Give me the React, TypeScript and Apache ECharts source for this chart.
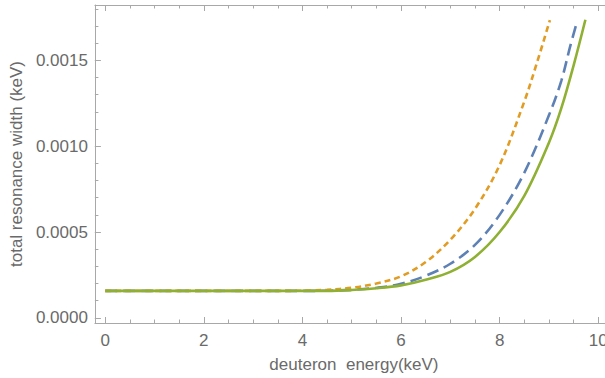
import React, { useEffect, useRef } from "react";
import * as echarts from "echarts";

// x positions (keV) and total resonance width (keV)
const xBlue = [0, 1, 2, 3, 4, 4.5, 5, 5.5, 6, 6.5, 7, 7.5, 8, 8.5, 9, 9.25, 9.43, 9.57];
const blueWidth = [
  0.000157, 0.000157, 0.000157, 0.000157, 0.000157, 0.000158, 0.000163, 0.000175,
  0.000198, 0.000245, 0.000315, 0.000425, 0.0006, 0.000845, 0.00118, 0.00138, 0.00158,
  0.001725,
];

const xOrange = [0, 1, 2, 3, 3.5, 4, 4.5, 5, 5.5, 6, 6.5, 7, 7.5, 8, 8.5, 8.75, 9.02];
const orangeWidth = [
  0.000157, 0.000157, 0.000157, 0.000157, 0.000157, 0.000158, 0.000163, 0.000175,
  0.0002, 0.000242, 0.000325, 0.000455, 0.000635, 0.00089, 0.00126, 0.00148, 0.001735,
];

const xGreen = [0, 1, 2, 3, 4, 4.5, 5, 5.5, 6, 6.5, 7, 7.5, 8, 8.5, 9, 9.25, 9.5, 9.74];
const greenWidth = [
  0.000157, 0.000157, 0.000157, 0.000157, 0.000157, 0.000157, 0.000162, 0.000172,
  0.000189, 0.000222, 0.000268, 0.000355, 0.0005, 0.00071, 0.00102, 0.00122, 0.00147,
  0.001737,
];

const xMajorTicks = [0, 2, 4, 6, 8, 10];
const xMinorTicks = [0, 0.5, 1, 1.5, 2, 2.5, 3, 3.5, 4, 4.5, 5, 5.5, 6, 6.5, 7, 7.5, 8, 8.5, 9, 9.5, 10];
const yMajorTicks = [0, 0.0005, 0.001, 0.0015];
const yMinorTicks = [
  0, 0.0001, 0.0002, 0.0003, 0.0004, 0.0005, 0.0006, 0.0007, 0.0008, 0.0009, 0.001, 0.0011,
  0.0012, 0.0013, 0.0014, 0.0015, 0.0016, 0.0017, 0.0018,
];

const xTitle = "deuteron  energy(keV)";
const yTitle = "total resonance width (keV)";

const pairs = (xs: number[], ys: number[]) => xs.map((x, i) => [x, ys[i]]);

const FRAME = "#a8a8a8";
const LABEL = "#6a6a6a";
const FONT = "'Liberation Sans', Arial, sans-serif";
const X_MIN = -0.21;
const X_MAX = 10.3;
const Y_MIN = -0.0000302;
const Y_MAX = 0.001823;

export default function App() {
  const ref = useRef<HTMLDivElement>(null);
  useEffect(() => {
    if (!ref.current) return;
    const chart = echarts.init(ref.current, undefined, { renderer: "svg" });

    const xBase = (position: "top" | "bottom", ticks: number[], len: number, labels: boolean, line: boolean) => ({
      type: "value",
      position,
      min: X_MIN,
      max: X_MAX,
      gridIndex: 0,
      axisLine: { show: line, onZero: false, lineStyle: { color: FRAME, width: 1 } },
      axisTick: { show: true, inside: true, length: len, customValues: ticks, lineStyle: { color: FRAME, width: 1 } },
      axisLabel: labels
        ? { show: true, customValues: ticks, color: LABEL, fontSize: 17, fontFamily: FONT, margin: 9 }
        : { show: false },
      splitLine: { show: false },
    });
    const yBase = (ticks: number[], len: number, labels: boolean, line: boolean) => ({
      type: "value",
      position: "left",
      min: Y_MIN,
      max: Y_MAX,
      gridIndex: 0,
      axisLine: { show: line, onZero: false, lineStyle: { color: FRAME, width: 1 } },
      axisTick: { show: true, inside: true, length: len, customValues: ticks, lineStyle: { color: FRAME, width: 1 } },
      axisLabel: labels
        ? {
            show: true,
            customValues: ticks,
            color: LABEL,
            fontSize: 17,
            fontFamily: FONT,
            margin: 7,
            formatter: (v: number) => v.toFixed(4),
          }
        : { show: false },
      splitLine: { show: false },
    });

    const xMain: any = xBase("bottom", xMajorTicks, 6, true, true);
    xMain.name = xTitle;
    xMain.nameLocation = "middle";
    xMain.nameGap = 33;
    xMain.nameTextStyle = { color: LABEL, fontSize: 17, fontFamily: FONT };

    const yMain: any = yBase(yMajorTicks, 6, true, true);
    yMain.name = yTitle;
    yMain.nameLocation = "middle";
    yMain.nameRotate = 90;
    yMain.nameGap = 66;
    yMain.nameTextStyle = { color: LABEL, fontSize: 17, fontFamily: FONT };

    const line = (data: number[][], color: string, type: any, z: number) => ({
      type: "line",
      xAxisIndex: 0,
      yAxisIndex: 0,
      data,
      showSymbol: false,
      smooth: 0.35,
      lineStyle: { color, width: 2.6, type, cap: "butt" },
      z,
    });

    chart.setOption({
      animation: false,
      backgroundColor: "#ffffff",
      grid: { left: 93, right: 12, top: 5, bottom: 53.5, containLabel: false },
      xAxis: [
        xMain,
        xBase("bottom", xMinorTicks, 3.5, false, false),
        xBase("top", xMajorTicks, 6, false, true),
        xBase("top", xMinorTicks, 3.5, false, false),
      ],
      yAxis: [yMain, yBase(yMinorTicks, 3.5, false, false)],
      series: [
        line(pairs(xBlue, blueWidth), "#5E81B5", [12, 6], 2),
        line(pairs(xOrange, orangeWidth), "#E19C24", [6, 4], 3),
        line(pairs(xGreen, greenWidth), "#8FB032", "solid", 4),
      ],
    });
    return () => chart.dispose();
  }, []);

  return (
    <div style={{ position: "fixed", left: 0, top: 0, width: 605, height: 378, overflow: "hidden", background: "#fff" }}>
      <div ref={ref} style={{ width: 625, height: 378 }} />
    </div>
  );
}
